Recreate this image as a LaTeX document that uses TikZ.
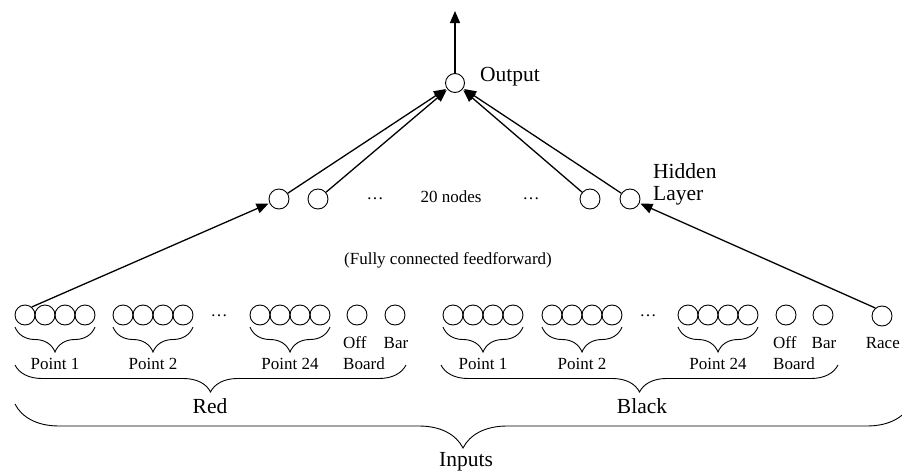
\documentclass[tikz,border=0pt]{standalone}
\usepackage{fontspec}
\setmainfont{Liberation Serif}
\usetikzlibrary{arrows.meta,decorations.pathreplacing}
\begin{document}
\begin{tikzpicture}[x=1pt,y=-1pt,
  unit/.style={draw,circle,line width=0.9pt,minimum size=20pt,inner sep=0pt},
  outunit/.style={unit,minimum size=19pt},
  arr/.style={line width=1.3pt,-{Triangle[length=12pt,width=10pt]},shorten >=1pt},
  small/.style={font=\fontsize{17}{18}\selectfont,inner sep=0pt},
  big/.style={font=\fontsize{21.5}{23}\selectfont,inner sep=0pt},
  brc/.style={decorate,line width=0.9pt,decoration={brace,mirror,amplitude=#1}}]
\useasboundingbox (0,0) rectangle (902,471);
\clip (0,0) rectangle (902,471);

% output unit
\node[outunit] (out) at (455,83) {};
\coordinate (top) at (455,10);
\draw[arr] (out) -- (top);
\node[big,anchor=west] (outlbl) at (480,77) {Output};

% hidden layer
\node[unit] (h1) at (279,199) {};
\node[unit] (h2) at (318,199) {};
\node[unit] (h3) at (590,199) {};
\node[unit] (h4) at (630,199) {};
\node[small] (hd1) at (375,199) {\dots};
\node[small] (hn) at (451,197) {20 nodes};
\node[small] (hd2) at (531,199) {\dots};
\node[big,anchor=west,align=left] (hlbl) at (653,184) {Hidden\\[-1pt]Layer};
\foreach \h in {h1,h2,h3,h4} \draw[arr] (\h) -- (out);

\node[small] (fc) at (448,260) {(Fully connected feedforward)};

% input units: four per point, both colours
\foreach \g/\x in {ra/25,rb/123,rc/260,ba/453,bb/552,bc/688}{
  \foreach \i in {0,1,2,3}{
    \node[unit] (\g\i) at ({\x+20*\i},315) {};
  }
}
\node[unit] (roff) at (357,315) {};
\node[unit] (rbar) at (395,315) {};
\node[unit] (boff) at (786,315) {};
\node[unit] (bbar) at (823,315) {};
\node[unit] (race) at (882,316) {};
\node[small] (rdots) at (219,316) {\dots};
\node[small] (bdots) at (648,316) {\dots};

% input connections into the hidden layer
\draw[arr] (ra0.50) -- (h1);
\draw[arr] (race.130) -- (h4);

% braces under each point group
\foreach \g/\x/\t in {ra/25/Point 1,rb/123/Point 2,rc/260/Point 24,ba/453/Point 1,bb/552/Point 2,bc/688/Point 24}{
  \draw[brc=25pt] ({\x-10},327) -- ({\x+70},327);
  \node[small] (\g lbl) at ({\x+30},364) {\t};
}
\node[small,anchor=west] (rofflbl) at (343,343) {Off};
\node[small,anchor=west] (rbrdlbl) at (343,364) {Board};
\node[small] (rbarlbl) at (396,343) {Bar};
\node[small,anchor=west] (bofflbl) at (773,343) {Off};
\node[small,anchor=west] (bbrdlbl) at (773,364) {Board};
\node[small] (bbarlbl) at (824,343) {Bar};
\node[small,anchor=east] (racelbl) at (900,343) {Race};

% colour groups
\draw[brc=27pt] (15,365) -- (406,365);
\node[big] (red) at (210,406) {Red};
\draw[brc=27pt] (441,365) -- (838,365);
\node[big] (black) at (642,406) {Black};

% all inputs
\draw[brc=44pt] (15,404) -- (911,404);
\node[big] (inputs) at (466,462) {Inputs};
\end{tikzpicture}
\end{document}
